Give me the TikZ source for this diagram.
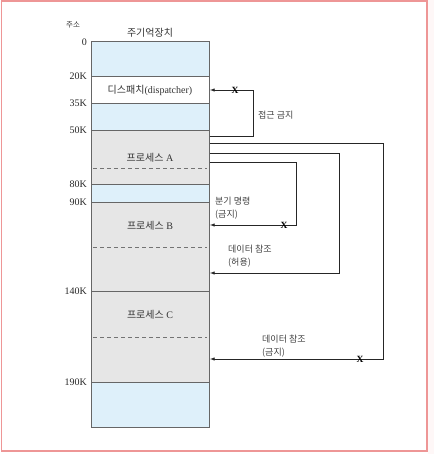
\documentclass[tikz,border=0pt]{standalone}
\usepackage{fontspec}
\setmainfont{Liberation Serif}
\newfontfamily\kr{Noto Sans CJK KR}
\usepackage{tikz}
\usetikzlibrary{positioning,arrows.meta}
\definecolor{membl}{RGB}{222,240,250}
\definecolor{memgr}{RGB}{230,230,230}
\definecolor{framered}{RGB}{238,150,150}

\begin{document}
\begin{tikzpicture}[x=1pt,y=-1pt,
  seg/.style={draw=black!60,line width=0.7pt,minimum width=118pt,inner sep=0pt,anchor=north west},
  addr/.style={anchor=east,font=\fontsize{10}{11}\selectfont,inner sep=0pt,text=black!85},
  tag/.style={font=\fontsize{9}{13}\selectfont,align=left,anchor=west,inner sep=0pt,text=black!75},
  ref/.style={draw=black!85,line width=0.9pt},
  deny/.style={font=\fontsize{9.5}{9.5}\selectfont\bfseries,inner sep=0pt}]
  \useasboundingbox (0,0) rectangle (434,454);
  \fill[framered!8] (428,0) rectangle (434,454);
  \draw[framered,line width=1.5pt] (1.5,0.8) rectangle (427,451);
  % memory column
  \node[seg,fill=membl,minimum height=35pt](m0) at (91,41){};
  \node[seg,fill=white,minimum height=27pt](disp) at (91,76){};
  \node[seg,fill=membl,minimum height=27pt](m35) at (91,103){};
  \node[seg,fill=memgr,minimum height=54pt](pa) at (91,130){};
  \node[seg,fill=membl,minimum height=18pt](m80) at (91,184){};
  \node[seg,fill=memgr,minimum height=89pt](pb) at (91,202){};
  \node[seg,fill=memgr,minimum height=91pt](pc) at (91,291){};
  \node[seg,fill=membl,minimum height=45pt](m190) at (91,382){};
  \draw[black!55,line width=0.8pt,dash pattern=on 4pt off 3pt] (93,168) -- (207,168);
  \draw[black!55,line width=0.8pt,dash pattern=on 4pt off 3pt] (93,247) -- (207,247);
  \draw[black!55,line width=0.8pt,dash pattern=on 4pt off 3pt] (93,337) -- (207,337);
  \node[font=\fontsize{10}{11}\selectfont,text=black!80](tdisp) at (150,90){{\kr 디스패치}(dispatcher)};
  \node[font=\fontsize{10}{11}\selectfont,text=black!80](ta) at (150,158){{\kr 프로세스} A};
  \node[font=\fontsize{10}{11}\selectfont,text=black!80](tb) at (150,226){{\kr 프로세스} B};
  \node[font=\fontsize{10}{11}\selectfont,text=black!80](tc) at (150,315){{\kr 프로세스} C};
  \node[font=\fontsize{10}{11}\selectfont\kr,text=black!80](title) at (150,33){주기억장치};
  \node[font=\fontsize{7.5}{9}\selectfont\kr,text=black!80](addrtitle) at (73,25){주소};
  % addresses
  \node[addr](a0) at (87,42){0};
  \node[addr](a20) at (87,76){20K};
  \node[addr](a35) at (87,103){35K};
  \node[addr](a50) at (87,130){50K};
  \node[addr](a80) at (87,184){80K};
  \node[addr](a90) at (87,202){90K};
  \node[addr](a140) at (87,291){140K};
  \node[addr](a190) at (87,382){190K};
  % references
  \coordinate (j1) at (253,90);
  \coordinate (j2) at (296,225);
  \coordinate (j3) at (339,273);
  \coordinate (j4) at (383,359);
  \draw[ref,-{Latex[length=5pt,width=3.5pt]}] (pa.east |- 0,136) -| (j1) -- (disp.east |- j1);
  \draw[ref,-{Latex[length=5pt,width=3.5pt]}] (pa.east |- 0,162) -| (j2) -- (pb.east |- j2);
  \draw[ref,-{Latex[length=5pt,width=3.5pt]}] (pa.east |- 0,153) -| (j3) -- (pb.east |- j3);
  \draw[ref,-{Latex[length=5pt,width=3.5pt]}] (pa.east |- 0,143) -| (j4) -- (pc.east |- j4);
  \node[deny](x1) at (235,90){X};
  \node[deny](x2) at (284,225){X};
  \node[deny](x4) at (360,359){X};
  \node[tag](l1) at (258,115){\kr 접근 금지};
  \node[tag](l2) at (215,208.5){\kr 분기 명령\\\kr (금지)};
  \node[tag](l3) at (228,256.5){\kr 데이터 참조\\\kr (허용)};
  \node[tag](l4) at (262,346){\kr 데이터 참조\\\kr (금지)};
\end{tikzpicture}
\end{document}
